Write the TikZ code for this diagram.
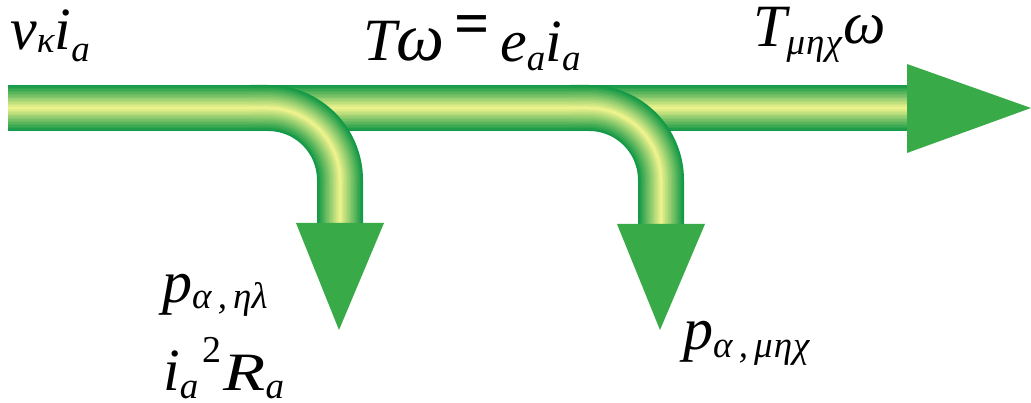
\documentclass[tikz,border=0pt]{standalone}
\usepackage{fontspec}
\setmainfont{Liberation Serif}
\definecolor{tubeD}{RGB}{18,152,70}
\definecolor{tubeL}{RGB}{236,242,140}
\definecolor{arrG}{RGB}{57,170,72}
\newcommand\sbs[2]{\raisebox{#2pt}{\fontsize{37}{38}\selectfont #1}}
\newcommand\tube[1]{%
  \foreach \k in {0,...,15}{%
    \pgfmathsetmacro\w{46-2.9*\k}%
    \pgfmathtruncatemacro\m{100*\k/15}%
    \draw[line width=\w pt, draw=tubeL!\m!tubeD, line cap=butt] #1;
  }}
\tikzset{lab/.style={anchor=base west, inner sep=0pt,
    font=\fontsize{60}{62}\selectfont\itshape},
  head/.style={fill=arrG, draw=none}}
\begin{document}
\begin{tikzpicture}[x=1pt,y=-1pt]
\useasboundingbox (0,0) rectangle (1031,403);
% coordinates
\coordinate (s) at (8,108);
\coordinate (e) at (908,108);
\coordinate (b1s) at (250,108);
\coordinate (b1c) at (340,108);
\coordinate (b1e) at (340,224);
\coordinate (b2s) at (570,108);
\coordinate (b2c) at (661,108);
\coordinate (b2e) at (661,224);
% main tube
\tube{(s) -- (e)}
% branches
\tube{[rounded corners=72pt] (b1s) -- (b1c) -- (b1e)}
\tube{[rounded corners=72pt] (b2s) -- (b2c) -- (b2e)}
% arrow heads
\fill[head] (907,64) -- (1031,108) -- (907,153) -- cycle;
\fill[head] (296,223) -- (384,223) -- (339,330) -- cycle;
\fill[head] (617,224) -- (705,224) -- (660,330) -- cycle;
% labels
\node[lab] (l1) at (10,50) {v\sbs{κ}{-3}i\sbs{a}{-12}};
\node[lab] (l2) at (363,61) {T{\fontsize{68}{70}\selectfont ω}};
\node[inner sep=0pt, anchor=base,
  font=\fontsize{62}{62}\selectfont\bfseries] (eq) at (472,45) {=};
\node[lab] (l3) at (500,62) {e\sbs{a}{-9}i\sbs{a}{-9}};
\node[lab] (l4) at (753,47) {T\sbs{μ\kern1pt η\kern1pt χ}{-8}\kern2pt\raisebox{3pt}{ω}};
\node[lab] (l5) at (162,303) {p\sbs{α\,,\,ηλ}{-6}};
\node[lab] (l6) at (163,390) {i\sbs{a}{-9}\hspace{4pt}\raisebox{28pt}{\fontsize{38}{40}\selectfont\upshape 2}\hspace{2pt}\scalebox{1.15}[0.9]{R}\sbs{a}{-8}};
\node[lab] (l7) at (683,350) {p\sbs{α\,,\,μ\kern1pt η\kern1pt χ}{-7}};
\end{tikzpicture}
\end{document}
